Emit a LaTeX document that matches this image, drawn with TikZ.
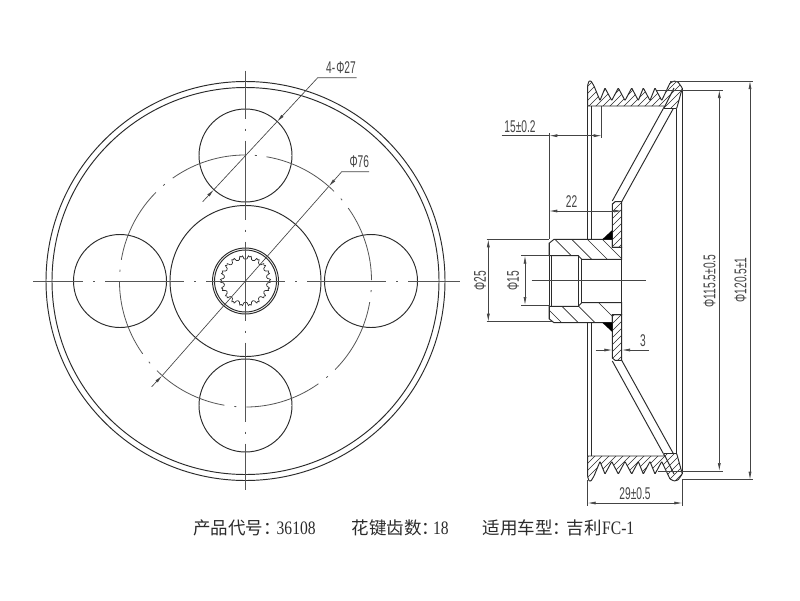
\documentclass[tikz,border=0pt]{standalone}
\usepackage{fontspec}
\usetikzlibrary{arrows.meta}
\newfontfamily\dimfont[FakeStretch=0.6]{Liberation Sans}
\newfontfamily\capfont[FakeStretch=0.82]{Liberation Serif}
\newfontfamily\cjkfont{Noto Sans CJK SC}
\definecolor{ink}{HTML}{2B2B2B}
\definecolor{thinink}{HTML}{444444}
\definecolor{axisink}{HTML}{555555}
\tikzset{
  body/.style={draw=ink,line width=0.95pt},
  thin line/.style={draw=thinink,line width=0.65pt},
  hatchline/.style={draw=ink,line width=0.65pt},
  axis/.style={draw=axisink,line width=1pt,dash pattern=on 79pt off 10pt on 2pt off 10pt},
  tipend/.style={-{Latex[length=8pt,width=3pt]}},
  dim/.style={thin line,{Latex[length=8pt,width=3pt]}-{Latex[length=8pt,width=3pt]}},
  dimtext/.style={inner sep=0pt,text=thinink,font=\fontsize{17}{17}\selectfont\dimfont},
  captext/.style={inner sep=0pt,anchor=west,text=ink,font=\fontsize{19}{19}\selectfont\capfont},
  cjktext/.style={inner sep=0pt,anchor=west,text=ink,font=\fontsize{17.5}{18}\selectfont\cjkfont},
}
\newcommand{\rimoutline}{(587.7,106) -- (587.7,85) -- (589,81) -- (591,81) -- (594,86) -- (600,100.5)
      -- (605,88) -- (611.7,100.5) -- (618.3,88) -- (625,100.5) -- (631.7,88) -- (638.3,100.5)
      -- (643.3,88) -- (650,100.5) -- (655,88) -- (661.7,100.5) -- (670,83) -- (674,81) -- (678,82)
      -- (682.3,88) -- (676.7,108.5) -- (663.3,108.5) -- (665,106) -- cycle}
\newcommand{\halfview}[2]{%
  % pulley rim section
  \begin{scope}
    \clip \rimoutline;
    \foreach \k in {550,557,...,720} \draw[hatchline] (\k,110) -- ++(#1*100,-100);
  \end{scope}
  \draw[body,rounded corners=0.7pt] \rimoutline;
  \draw[body] (665,106) -- (674,88);
  % cylinder walls
  \draw[body] (587.7,106) -- (587.7,239.3) (591.7,106) -- (591.7,239.3);
  \draw[body] (676.7,108.5) -- (676.7,281) (682.3,88) -- (682.3,281);
  % conical web
  \draw[body] (663.3,108.5) -- (612.3,201) (673.3,108.5) -- (621.7,201.7);
  % flange section
  \begin{scope}
    \clip (612.3,204) -- (615,201.7) -- (621.7,201.7) -- (621.7,247.3) -- (612.3,247.3) -- cycle;
    \foreach \k in {550,557,...,690} \draw[hatchline] (\k,260) -- ++(#1*100,-100);
  \end{scope}
  \draw[body] (612.3,204) -- (615,201.7) -- (621.7,201.7) -- (621.7,247.3) -- (612.3,247.3) -- cycle;
  % hub section
  \begin{scope}
    \clip (549,243.3) -- (554,239.3) -- (612.3,239.3) -- (612.3,247.3) -- (621.7,247.3) -- (621.7,259.3)
      -- (581.7,259.3) -- (578.3,255.7) -- (549,255.7) -- cycle;
    \foreach \k in {#2} \draw[hatchline] (\k,239.3) -- ++(#1*100,100);
  \end{scope}
  \draw[body] (549,243.3) -- (554,239.3) -- (612.3,239.3) -- (612.3,247.3) -- (621.7,247.3) -- (621.7,259.3)
      -- (581.7,259.3) -- (578.3,255.7) -- (549,255.7) -- cycle;
  % weld
  \fill[black] (602.3,239.3) -- (612.3,239.3) -- (612.3,230) -- cycle;
  % bore verticals
  \draw[body] (549,243.3) -- (549,281) (551.7,255.7) -- (551.7,281)
    (578.3,255.7) -- (578.3,281) (581.7,259.3) -- (581.7,281) (621.7,259.3) -- (621.7,281);
}
\begin{document}
\begin{tikzpicture}[x=1pt,y=-1pt]
\useasboundingbox (0,0) rectangle (800,600);
\fill[white] (0,0) rectangle (800,600);
% ---------- front view ----------
\coordinate (C) at (245.5,281);
\draw[body] (C) circle[radius=199.5];
\draw[body] (C) circle[radius=193.5];
\draw[body] (C) circle[radius=75.5];
\draw[body] (C) circle[radius=33];
\draw[body] (C) circle[radius=31];
\draw[body] (245.5,155.5) circle[radius=46.5];
\draw[body] (245.5,405.5) circle[radius=46.5];
\draw[body] (120,281) circle[radius=46.5];
\draw[body] (371,281) circle[radius=46.5];
% spline
\begin{scope}[shift={(245.5,280.7)}]
  \foreach \a in {10,30,...,350}
    \draw[draw=ink,line width=0.7pt] ({\a-10}:24) .. controls ({\a-7.5}:25.2) and ({\a-6}:25.6) .. ({\a-6}:24.2)
      .. controls ({\a-5.5}:20.6) and ({\a+5.5}:20.6) .. ({\a+6}:24.2)
      .. controls ({\a+6}:25.6) and ({\a+7.5}:25.2) .. ({\a+10}:24);
\end{scope}
% axes
\draw[axis,dash phase=29pt] (33,281) -- (460,281);
\draw[axis,dash phase=31pt,line width=0.8pt] (245.5,70.7) -- (245.5,490);
\draw[axis,line width=0.8pt,dash pattern=on 77pt off 10pt on 2pt off 10pt]
  (C) ++(-80.4:126) arc[start angle=-80.4,end angle=279.6,radius=126];
% leader 4-phi27
\coordinate (holeA) at (277,121.7);
\coordinate (holeB) at (213.9,189.6);
\coordinate (holeBend) at (202.7,201.7);
\coordinate (holeElbow) at (317.7,77.7);
\coordinate (holeShelf) at (356.7,77.7);
\draw[thin line,tipend] (holeShelf) -- (holeElbow) -- (holeA);
\draw[thin line] (holeA) -- (holeB);
\draw[thin line,tipend] (holeBend) -- (holeB);
\node[dimtext] (lblholes) at (341,68) {4-\kern1ptΦ27};
% leader phi76
\coordinate (pcdA) at (328.8,186.4);
\coordinate (pcdB) at (162.2,375.6);
\coordinate (pcdBend) at (151.7,386.7);
\coordinate (pcdElbow) at (341.7,171.7);
\coordinate (pcdShelf) at (369,171.7);
\draw[thin line,tipend] (pcdShelf) -- (pcdElbow) -- (pcdA);
\draw[thin line] (pcdA) -- (pcdB);
\draw[thin line,tipend] (pcdBend) -- (pcdB);
\node[dimtext] (lblpcd) at (359.3,162) {Φ76};
% ---------- section view ----------
\halfview{1}{555,571.7,587.3,602.3}
\begin{scope}[y=1pt,yshift=-562pt]
\halfview{-1}{561.7,578.3,595,618.7}
\end{scope}
\draw[thin line] (531.7,280.5) -- (645.7,280.5);
% ---------- dimensions ----------
% 15+-0.2
\coordinate (a15L) at (549.3,135.7);
\coordinate (a15R) at (601.7,135.7);
\coordinate (a15T) at (501.7,135.7);
\draw[thin line] (549.3,133) -- (549.3,239.3);
\draw[thin line] (601.7,106) -- (601.7,137.5);
\draw[dim] (a15L) -- (a15R);
\draw[thin line] (a15T) -- (a15L);
\node[dimtext] (lbl15) at (520,126.5) {15±0.2};
% 22
\coordinate (a22L) at (549.3,211);
\coordinate (a22R) at (622,211);
\draw[dim] (a22L) -- (a22R);
\node[dimtext] (lbl22) at (571.5,201.5) {22};
% phi25
\coordinate (a25T) at (488.3,239.3);
\coordinate (a25B) at (488.3,321.7);
\draw[thin line] (486.7,239.3) -- (549,239.3);
\draw[thin line] (486.7,321.7) -- (551.7,321.7);
\draw[dim] (a25T) -- (a25B);
\node[dimtext,rotate=90] (lbl25) at (480,281) {Φ25};
% phi15
\coordinate (a15T2) at (525,255.7);
\coordinate (a15B2) at (525,305);
\draw[thin line] (521,255.7) -- (550,255.7);
\draw[thin line] (521,305) -- (550,305);
\draw[dim] (a15T2) -- (a15B2);
\node[dimtext,rotate=90] (lblb15) at (513,280.7) {Φ15};
% 3
\coordinate (a3L) at (612.3,350);
\coordinate (a3R) at (622,350);
\coordinate (a3LL) at (595.5,350);
\coordinate (a3RR) at (649,350);
\draw[thin line,tipend] (a3LL) -- (a3L);
\draw[thin line,tipend] (a3RR) -- (a3R);
\node[dimtext] (lbl3) at (643,340.5) {3};
% phi115.5
\coordinate (a115T) at (719.3,90);
\coordinate (a115B) at (719.3,471);
\draw[thin line] (656.7,90) -- (722.7,90);
\draw[thin line] (658,471) -- (722.7,471);
\draw[dim] (a115T) -- (a115B);
\node[dimtext,rotate=90] (lbl115) at (709.5,281) {Φ115.5±0.5};
% phi120.5
\coordinate (a120T) at (750,81);
\coordinate (a120B) at (750,479.7);
\draw[thin line] (670,81) -- (753,81);
\draw[thin line] (682,479.7) -- (753,479.7);
\draw[dim] (a120T) -- (a120B);
\node[dimtext,rotate=90] (lbl120) at (740.5,280) {Φ120.5±1};
% 29
\coordinate (a29L) at (587.7,503);
\coordinate (a29R) at (682.3,503);
\draw[thin line] (587.7,480) -- (587.7,506);
\draw[thin line] (682.3,480) -- (682.3,506);
\draw[dim] (a29L) -- (a29R);
\node[dimtext] (lbl29) at (635,494) {29±0.5};
% ---------- caption ----------
\node[cjktext] (c1) at (193,528) {产品代号：};
\node[captext] (c2) at (276.5,528) {36108};
\node[cjktext] (c3) at (351.5,528) {花键齿数：};
\node[captext] (c4) at (433,528) {18};
\node[cjktext] (c5) at (482.5,528) {适用车型：};
\node[cjktext] (c6) at (566.5,528) {吉利};
\node[captext] (c7) at (602,528) {FC-1};
\end{tikzpicture}
\end{document}
